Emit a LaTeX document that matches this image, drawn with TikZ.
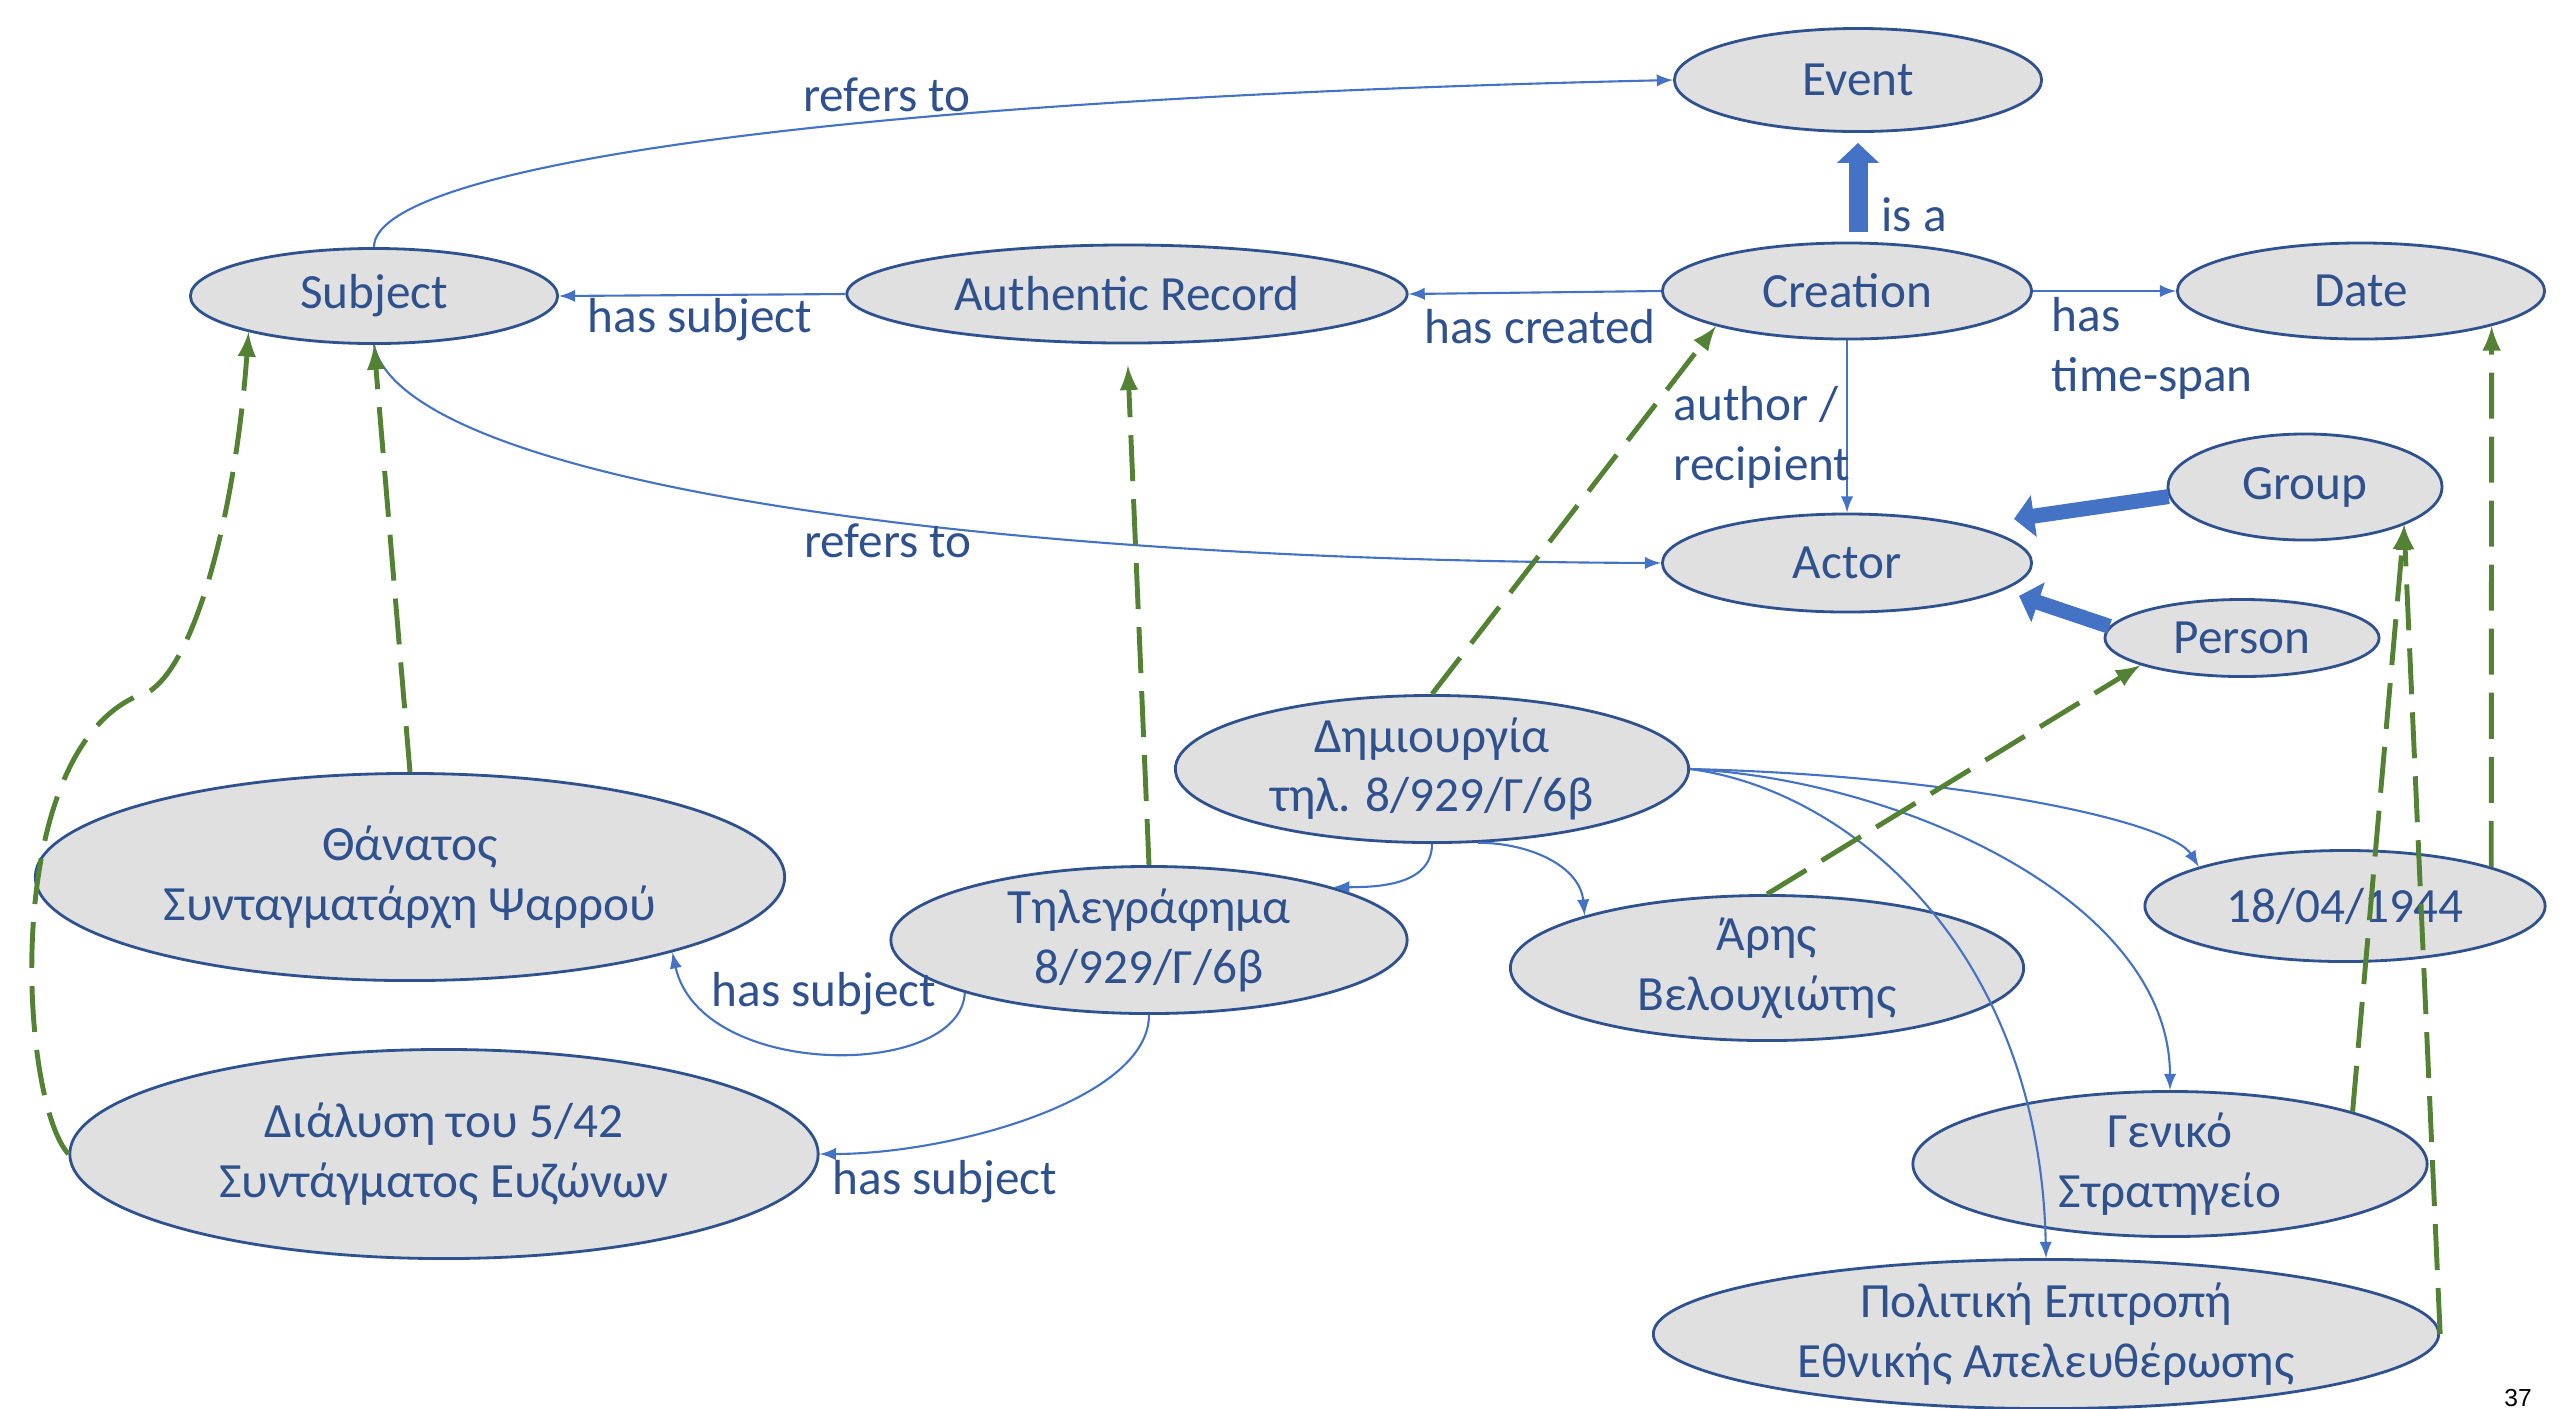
\documentclass[tikz,border=0pt]{standalone}
\usepackage{fontspec}
\setmainfont{Carlito}
\newfontfamily\pagenofont{Liberation Sans}
\usetikzlibrary{shapes.geometric,arrows.meta}
\definecolor{txtblue}{HTML}{2F528F}
\definecolor{nodegray}{HTML}{E0E0E0}
\definecolor{edgeblue}{HTML}{4472C4}
\definecolor{instgreen}{HTML}{548235}
\begin{document}
\begin{tikzpicture}[x=0.01cm,y=-0.01cm,
    font=\fontsize{14}{17}\selectfont,
    ent/.style={ellipse,draw=txtblue,fill=nodegray,line width=0.8pt,text=txtblue,inner sep=0pt,align=center},
    lbl/.style={text=txtblue,inner sep=0pt,align=left},
    rel/.style={edgeblue,line width=0.6pt,-latex},
    inst/.style={instgreen,line width=1.4pt,dash pattern=on 0.46cm off 0.18cm,-latex},
    isa/.style={edgeblue,line width=0.19cm,-{Triangle[length=0.2cm,width=0.41cm]}}]
    \useasboundingbox (0,0) rectangle (2560,1408);
    % classes
    \node[ent,minimum width=3.67cm,minimum height=1.03cm] (event) at (1858,80) {Event};
    \node[ent,minimum width=3.67cm,minimum height=0.95cm] (subj) at (374,296) {Subject};
    \node[ent,minimum width=5.60cm,minimum height=0.98cm] (auth) at (1127,294) {Authentic Record};
    \node[ent,minimum width=3.69cm,minimum height=0.96cm] (crea) at (1847,291) {Creation};
    \node[ent,minimum width=3.67cm,minimum height=0.96cm] (date) at (2361,291) {Date};
    \node[ent,minimum width=2.74cm,minimum height=1.06cm] (grp) at (2305,487) {Group};
    \node[ent,minimum width=3.69cm,minimum height=0.98cm] (act) at (1847,563) {Actor};
    \node[ent,minimum width=2.74cm,minimum height=0.77cm] (pers) at (2242,638) {Person};
    % instances
    \node[ent,minimum width=5.13cm,minimum height=1.47cm] (dim) at (1432,769) {Δημιουργία\\τηλ. 8/929/Γ/6β};
    \node[ent,minimum width=7.49cm,minimum height=2.07cm] (than) at (410,877) {Θάνατος\\Συνταγματάρχη Ψαρρού};
    \node[ent,minimum width=5.16cm,minimum height=1.47cm] (tile) at (1149,940) {Τηλεγράφημα\\8/929/Γ/6β};
    \node[ent,minimum width=5.13cm,minimum height=1.45cm] (aris) at (1767,968) {Άρης\\Βελουχιώτης};
    \node[ent,minimum width=4.00cm,minimum height=1.11cm] (d44) at (2345,906) {18/04/1944};
    \node[ent,minimum width=5.14cm,minimum height=1.45cm] (gen) at (2170,1164) {Γενικό\\Στρατηγείο};
    \node[ent,minimum width=7.48cm,minimum height=2.09cm] (dial) at (444,1154) {Διάλυση του 5/42\\Συντάγματος Ευζώνων};
    \node[ent,minimum width=7.85cm,minimum height=1.49cm] (pol) at (2046,1334) {Πολιτική Επιτροπή\\Εθνικής Απελευθέρωσης};
    \coordinate (bend) at (135,697);
    % properties
    \draw[rel] (auth.west) -- (subj.east);
    \draw[rel] (crea.west) -- (auth.east);
    \draw[rel] (crea.east) -- (date.west);
    \draw[rel] (crea.south) -- (act.north);
    \draw[rel] (subj.north) .. controls (374,170) and (800,100) .. (event.west);
    \draw[rel] (subj.south) .. controls (400,470) and (900,560) .. (act.west);
    \draw[rel] (tile.-164) .. controls (960,1080) and (700,1080) .. (than.-16);
    \draw[rel] (tile.south) .. controls (1149,1100) and (950,1154) .. (dial.east);
    \draw[rel] (dim.south) to[out=-90,in=0] (tile.16);
    \draw[rel] (dim.-58) to[out=0,in=95] (aris.164);
    \draw[rel] (dim.east) .. controls (1950,775) and (2170,820) .. (d44.165);
    \draw[rel] (dim.east) .. controls (1900,780) and (2170,900) .. (gen.north);
    \draw[rel] (dim.east) .. controls (1850,790) and (2040,950) .. (pol.north);
    % is a
    \draw[isa,shorten <=0.1cm,shorten >=0.1cm] (event.south |- crea.north) -- (event.south);
    \draw[isa,line width=0.15cm,shorten >=0.44cm] (grp.184) -- (act.17);
    \draw[isa,line width=0.15cm,shorten >=0.17cm] (pers.175) -- (act.-10);
    % instance of
    \draw[inst] (than.north) -- (subj.south);
    \draw[inst] (dial.west) .. controls (20,1100) and (0,760) .. (bend) .. controls (190,690) and (235,520) .. (subj.-164);
    \draw[inst,shorten >=0.21cm] (tile.north) -- (auth.south);
    \draw[inst] (dim.north) -- (crea.-165);
    \draw[inst] (aris.north) -- (pers.-165);
    \draw[inst] (gen.16) -- (grp.-21);
    \draw[inst] (pol.east) -- (grp.-21);
    \draw[inst] (d44.15) -- (date.-15);
    % labels
    \node[lbl] (l-ref1) at (887,95) {refers to};
    \node[lbl] (l-sub1) at (700,320) {has subject};
    \node[lbl] (l-cre) at (1540,327) {has created};
    \node[lbl] (l-isa) at (1914,215) {is a};
    \node[lbl,anchor=west] (l-span) at (2051,348) {has\\time-span};
    \node[lbl,anchor=west] (l-auth) at (1673,437) {author /\\recipient};
    \node[lbl] (l-ref2) at (888,541) {refers to};
    \node[lbl] (l-sub2) at (824,994) {has subject};
    \node[lbl] (l-sub3) at (945,1182) {has subject};
    \node[font=\pagenofont\fontsize{7}{8}\selectfont] (pageno) at (2518,1398) {37};
\end{tikzpicture}
\end{document}
